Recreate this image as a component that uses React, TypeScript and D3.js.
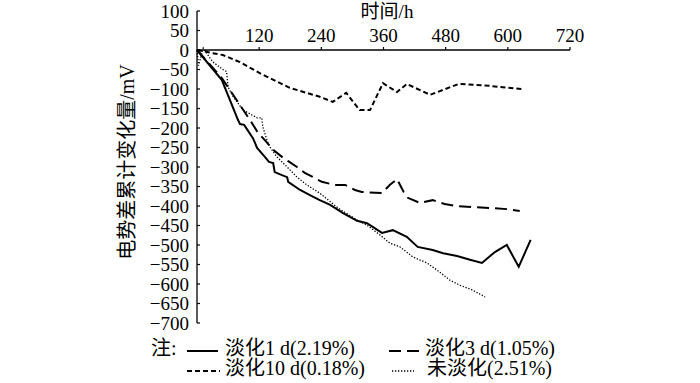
import React from "react";
import * as d3 from "d3";

const xTicks = [120, 240, 360, 480, 600, 720];
const yTicks = [100, 50, 0, -50, -100, -150, -200, -250, -300, -350, -400, -450, -500, -550, -600, -650, -700];

// 淡化1 d (solid)
const d1H = [0, 48, 79, 83, 91, 108, 116, 131, 139, 147, 150, 164, 174, 176, 199, 218, 237, 257, 282, 309, 328, 340, 357, 378, 405, 426, 455, 475, 502, 527, 550, 575, 598, 621, 644];
const d1V = [0, -77, -179, -190, -192, -226, -251, -274, -287, -290, -313, -321, -326, -338, -359, -372, -385, -397, -418, -438, -444, -454, -469, -462, -479, -505, -513, -521, -528, -538, -546, -518, -500, -556, -487];

// 淡化3 d (long dash)
const d3H = [0, 48, 83, 106, 118, 131, 147, 164, 176, 193, 208, 224, 241, 266, 286, 305, 318, 357, 372, 386, 399, 407, 430, 455, 478, 502, 532, 565, 598, 623];
const d3V = [0, -72, -141, -187, -213, -231, -256, -274, -285, -300, -315, -326, -338, -346, -346, -359, -364, -367, -346, -331, -364, -379, -392, -385, -395, -400, -403, -405, -408, -413];

// 淡化10 d (short dash)
const d10H = [0, 30, 50, 83, 122, 179, 237, 262, 288, 314, 334, 359, 386, 405, 450, 505, 565, 627];
const d10V = [0, -8, -13, -31, -60, -97, -120, -133, -110, -154, -154, -85, -108, -87, -115, -87, -92, -100];

// 未淡化 (dotted)
const d0H = [0, 3, 12, 30, 50, 57, 60, 70, 89, 116, 125, 127, 135, 141, 154, 174, 193, 212, 237, 272, 309, 328, 353, 372, 392, 417, 444, 463, 488, 507, 531, 556];
const d0V = [0, -40, 5, -30, -50, -55, -95, -120, -154, -174, -174, -197, -231, -249, -274, -300, -326, -346, -367, -405, -436, -449, -474, -495, -505, -531, -546, -564, -590, -603, -615, -633];

const legendLabels = ["淡化1 d(2.19%)", "淡化3 d(1.05%)", "淡化10 d(0.18%)", "未淡化(2.51%)"];

const FONT = "'Liberation Serif', 'Times New Roman', 'Noto Sans CJK SC', serif";

export default function App() {
  const x = d3.scaleLinear().domain([0, 720]).range([197, 570]);
  const y = d3.scaleLinear().domain([-700, 100]).range([323, 11]);
  const line = d3
    .line<[number, number]>()
    .x((d) => x(d[0]))
    .y((d) => y(d[1]));
  const zip = (h: number[], v: number[]) => h.map((hh, i) => [hh, v[i]] as [number, number]);

  const series = [
    { d: zip(d1H, d1V), dash: "none", w: 2 },
    { d: zip(d3H, d3V), dash: "12,6", w: 2 },
    { d: zip(d10H, d10V), dash: "5,3", w: 2 },
    { d: zip(d0H, d0V), dash: "1.3,1.7", w: 1.3 },
  ];

  const legendPos = [
    { lx: 187, lw: 31, tx: 225, ty: 355 },
    { lx: 389, lw: 32, tx: 425, ty: 355 },
    { lx: 187, lw: 33, tx: 225, ty: 375 },
    { lx: 392, lw: 22, tx: 427, ty: 375 },
  ];

  return (
    <svg width={700} height={383} style={{ position: "absolute", left: 0, top: 0, background: "#fff" }} fontFamily={FONT}>
      <rect width={700} height={383} fill="#fff" />
      {/* y axis */}
      <line x1={x(0)} x2={x(0)} y1={y(100)} y2={y(-700)} stroke="#000" strokeWidth={1.3} />
      {yTicks.map((t) => (
        <g key={t}>
          <line x1={x(0)} x2={x(0) + 3} y1={y(t)} y2={y(t)} stroke="#000" strokeWidth={1.2} />
          <text x={189} y={y(t)} dy="0.35em" textAnchor="end" fontSize={19}>
            {t < 0 ? "\u2212" + Math.abs(t) : t}
          </text>
        </g>
      ))}
      {/* x axis */}
      <line x1={x(0)} x2={x(720)} y1={y(0)} y2={y(0)} stroke="#000" strokeWidth={1.3} />
      {xTicks.map((t) => (
        <g key={t}>
          <line x1={x(t)} x2={x(t)} y1={y(0)} y2={y(0) - 3} stroke="#000" strokeWidth={1.2} />
          <text x={x(t)} y={42} textAnchor="middle" fontSize={19}>
            {t}
          </text>
        </g>
      ))}
      <text x={387} y={18} textAnchor="middle" fontSize={19}>
        时间/h
      </text>
      <text transform="translate(134,162) rotate(-90)" textAnchor="middle" fontSize={20}>
        电势差累计变化量/mV
      </text>
      {series.map((s, i) => (
        <path key={i} d={line(s.d) || ""} fill="none" stroke="#000" strokeWidth={s.w} strokeDasharray={s.dash} strokeLinejoin="miter" />
      ))}
      {/* legend */}
      <text x={151} y={355} fontSize={20}>
        注:
      </text>
      {legendPos.map((p, i) => (
        <g key={i}>
          <line x1={p.lx} x2={p.lx + p.lw} y1={p.ty - 4} y2={p.ty - 4} stroke="#000" strokeWidth={series[i].w} strokeDasharray={series[i].dash} />
          <text x={p.tx} y={p.ty} fontSize={20}>
            {legendLabels[i]}
          </text>
        </g>
      ))}
    </svg>
  );
}
